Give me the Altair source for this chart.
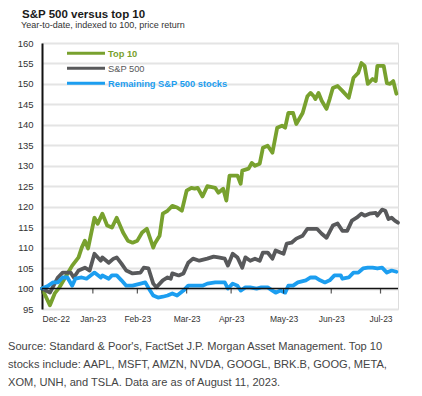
import altair as alt
import pandas as pd

# ---------------- data ----------------
start_date = "2022-12-30"

top10_days = [0, 5, 8, 11, 16, 19, 23, 25, 27, 29,
              33, 35, 38, 41, 44, 47, 51, 54, 57, 60,
              63, 66, 70, 71, 74, 76, 79, 82, 85, 88,
              91, 94, 96, 98, 101, 104, 109, 111, 114, 116,
              118, 123, 125, 126, 130, 132, 134, 137, 139, 142,
              145, 148, 151, 153, 155, 158, 160, 164, 167, 169,
              171, 172, 174, 176, 179, 181, 183, 186, 189, 193,
              196, 199, 201, 203, 205, 208, 210, 211, 215, 217,
              219, 221, 223]
top10_vals = [100, 95.9, 98.8, 100.3, 103.6, 105.6, 107.6, 110, 111.7, 109.8,
              117.3, 115.8, 118.3, 115.4, 114.9, 117.3, 113.7, 111.7, 111.2, 111.7,
              113.7, 114.6, 110, 111, 112.9, 118.3, 119, 120.2, 119.8, 119,
              123.9, 124.6, 124.4, 124.6, 122.5, 125, 124.6, 123.4, 124.4, 121.5,
              127.6, 127.6, 125.6, 128.8, 129.3, 130.7, 130, 130.5, 134.4, 134.9,
              133.2, 139.3, 139.8, 139.3, 142.9, 142.9, 140.2, 142.9, 147, 147.8,
              147, 146.3, 147.8, 145.9, 143.9, 146.3, 149, 149.5, 148.3, 146.6,
              151.5, 152.7, 155.1, 154.4, 150, 151.2, 150.7, 154.4, 154.4, 150.2,
              150, 150.7, 147.6]

sp500_days = [0, 5, 10, 13, 18, 20, 23, 27, 30, 33,
              37, 38, 42, 45, 47, 50, 53, 57, 62, 64,
              67, 70, 72, 76, 79, 81, 82, 86, 89, 92,
              95, 99, 104, 108, 111, 115, 117, 120, 123, 126,
              128, 131, 134, 137, 139, 142, 145, 147, 150, 152,
              154, 157, 160, 164, 167, 170, 173, 176, 179, 183,
              186, 189, 192, 195, 198, 201, 203, 206, 210, 211,
              214, 216, 218, 220, 222, 224]
sp500_vals = [100, 99, 102.7, 103.9, 103.9, 102.7, 104.4, 105.1, 104.4, 108.5,
              106.8, 107.6, 106.3, 107.3, 107.6, 106.1, 104.4, 103.7, 103.9, 105.1,
              104.9, 101.2, 100.3, 102, 102.7, 102.4, 103.7, 103.2, 103.7, 106.3,
              107.3, 106.8, 107.3, 107.8, 107.6, 107.3, 105.6, 108.5, 107.6, 105.1,
              107.6, 106.8, 107.3, 106.8, 108.8, 108.8, 107.3, 109.3, 108.8, 108.5,
              111, 111.2, 112.2, 112.9, 114.6, 114.6, 114.6, 113.4, 112.4, 115.4,
              115.9, 114.1, 114.1, 116.6, 117.3, 118.3, 117.8, 118.3, 118.5, 117.8,
              119.3, 119, 117, 117.3, 116.6, 116.1]

rest_days = [0, 4, 7, 10, 13, 16, 19, 21, 25, 28,
             33, 37, 38, 42, 44, 47, 50, 53, 57, 62,
             65, 68, 70, 73, 76, 79, 82, 85, 89, 92,
             96, 101, 104, 109, 112, 115, 117, 120, 123, 125,
             128, 131, 135, 138, 142, 145, 147, 150, 153, 155,
             158, 161, 166, 169, 172, 175, 178, 181, 184, 188,
             189, 193, 196, 199, 202, 205, 208, 211, 214, 217,
             220, 223]
rest_vals = [100, 100.7, 101.5, 101.5, 102.7, 102.7, 100.7, 102.4, 102.7, 102.4,
             103.9, 102.7, 103.2, 102.4, 103.2, 103.2, 102, 100.7, 100.7, 101.2,
             101.5, 99.5, 98.3, 97.8, 98, 98.3, 98.8, 98.3, 99.5, 100.7,
             100.7, 100.7, 101.2, 101.5, 101.5, 101.5, 100, 101.2, 100.7, 99.5,
             100.3, 100.3, 100, 100.3, 100.3, 99.5, 99, 99.5, 99, 100.7,
             100.7, 101.5, 102, 102.7, 102.7, 102, 101.5, 102, 103.2, 103.2,
             102.4, 102.7, 103.9, 103.9, 104.9, 105.1, 105.1, 104.9, 105.1, 103.9,
             104.4, 104.1]

series_names = ["Top 10", "S&P 500", "Remaining S&P 500 stocks"]
series_colors = ["#78a12e", "#58595b", "#1c9ef0"]
month_ticks = ["2022-12-30", "2023-01-31", "2023-02-28", "2023-03-31",
               "2023-04-28", "2023-05-31", "2023-06-30", "2023-07-31"]
x_end = "2023-08-11"
y_ticks = [95, 100, 105, 110, 115, 120, 125, 130, 135, 140, 145, 150, 155, 160]
baseline = [100]

title_text = "S&P 500 versus top 10"
subtitle_text = "Year-to-date, indexed to 100, price return"
source_lines = [
    "Source: Standard & Poor's, FactSet J.P. Morgan Asset Management. Top 10",
    "stocks include: AAPL, MSFT, AMZN, NVDA, GOOGL, BRK.B, GOOG, META,",
    "XOM, UNH, and TSLA. Data are as of August 11, 2023.",
]

# ---------------- tables ----------------
t0 = pd.Timestamp(start_date)
rows = []
for name, days, vals in [(series_names[0], top10_days, top10_vals),
                         (series_names[1], sp500_days, sp500_vals),
                         (series_names[2], rest_days, rest_vals)]:
    for i, (d, v) in enumerate(zip(days, vals)):
        rows.append({"series": name, "date": t0 + pd.Timedelta(days=d), "value": v, "k": i})
df = pd.DataFrame(rows)

ticks_df = pd.DataFrame({"date": pd.to_datetime(month_ticks), "value": baseline * len(month_ticks)})
base_df = pd.DataFrame({"value": baseline})

def dt(s):
    t = pd.Timestamp(s)
    return alt.DateTime(year=t.year, month=t.month, date=t.day)

FONT = "Liberation Sans, Arial, sans-serif"

x_scale = alt.Scale(domain=[dt(start_date), dt(x_end)])
x_axis = alt.Axis(values=[dt(s) for s in month_ticks], format="%b-%y",
                  domain=False, ticks=False, tickSize=0, grid=False,
                  labelFontSize=8.5, labelColor="#333333", labelPadding=5,
                  labelOverlap=False, labelFont=FONT, title=None)
y_scale = alt.Scale(domain=[95, 160], nice=False, zero=False)
y_axis = alt.Axis(values=y_ticks, domain=True, domainColor="#111111", domainWidth=2,
                  ticks=False, tickSize=0, grid=True, gridColor="#e4e4e4", gridWidth=1.8,
                  labelFontSize=9.5, labelColor="#333333", labelPadding=9,
                  labelOverlap=False, labelBound=False, labelFont=FONT, title=None)

lines = alt.Chart(df).mark_line(strokeWidth=3.8, strokeJoin="round", strokeCap="round").encode(
    x=alt.X("date:T", scale=x_scale, axis=x_axis),
    y=alt.Y("value:Q", scale=y_scale, axis=y_axis),
    color=alt.Color("series:N", scale=alt.Scale(domain=series_names, range=series_colors), legend=None),
    order="k:Q",
)

base_rule = alt.Chart(base_df).mark_rule(color="#111111", strokeWidth=1.5).encode(
    y=alt.Y("value:Q", scale=y_scale, axis=y_axis))

month_marks = alt.Chart(ticks_df).mark_tick(color="#111111", thickness=1.2, size=5, yOffset=2.5,
                                             orient="vertical").encode(
    x=alt.X("date:T", scale=x_scale, axis=x_axis),
    y=alt.Y("value:Q", scale=y_scale, axis=y_axis))

def text_layer(txt, x, y, size, color, weight="normal", **kw):
    return alt.Chart(pd.DataFrame({"t": [txt]})).mark_text(
        align="left", baseline="alphabetic", fontSize=size, color=color,
        fontWeight=weight, font=FONT, **kw).encode(
        text="t:N", x=alt.value(x), y=alt.value(y))

def legend_line(color, y):
    return alt.Chart(pd.DataFrame({"t": [0]})).mark_rule(color=color, strokeWidth=3).encode(
        x=alt.value(25), x2=alt.value(63), y=alt.value(y))

legend_layers = []
legend_y = [10.3, 25.3, 40.3]
legend_weights = ["bold", "normal", "bold"]
for name, col, yy, w in zip(series_names, series_colors, legend_y, legend_weights):
    legend_layers.append(legend_line(col, yy))
    legend_layers.append(text_layer(name, 66, yy + 3.3, 9.3, col, w))

title_layer = text_layer(title_text, -20, -25.5, 11.5, "#1a1a1a", "bold")
subtitle_layer = text_layer(subtitle_text, -21, -15, 9, "#333333")
source_layer = alt.Chart(pd.DataFrame({"t": [0]})).mark_text(
    align="left", baseline="alphabetic", fontSize=11.1, color="#444444", font=FONT,
    lineHeight=17.8, text=source_lines).encode(x=alt.value(-34), y=alt.value(307))

chart = alt.layer(
    lines, base_rule, month_marks, *legend_layers, title_layer, subtitle_layer, source_layer
).properties(
    width=356, height=266,
    autosize=alt.AutoSizeParams(type="none"),
    padding={"left": 34, "top": 35, "right": 16, "bottom": 84},
).configure_view(stroke=None).configure(background="white")

chart.save("out.html", embed_options={"renderer": "svg", "actions": False})
